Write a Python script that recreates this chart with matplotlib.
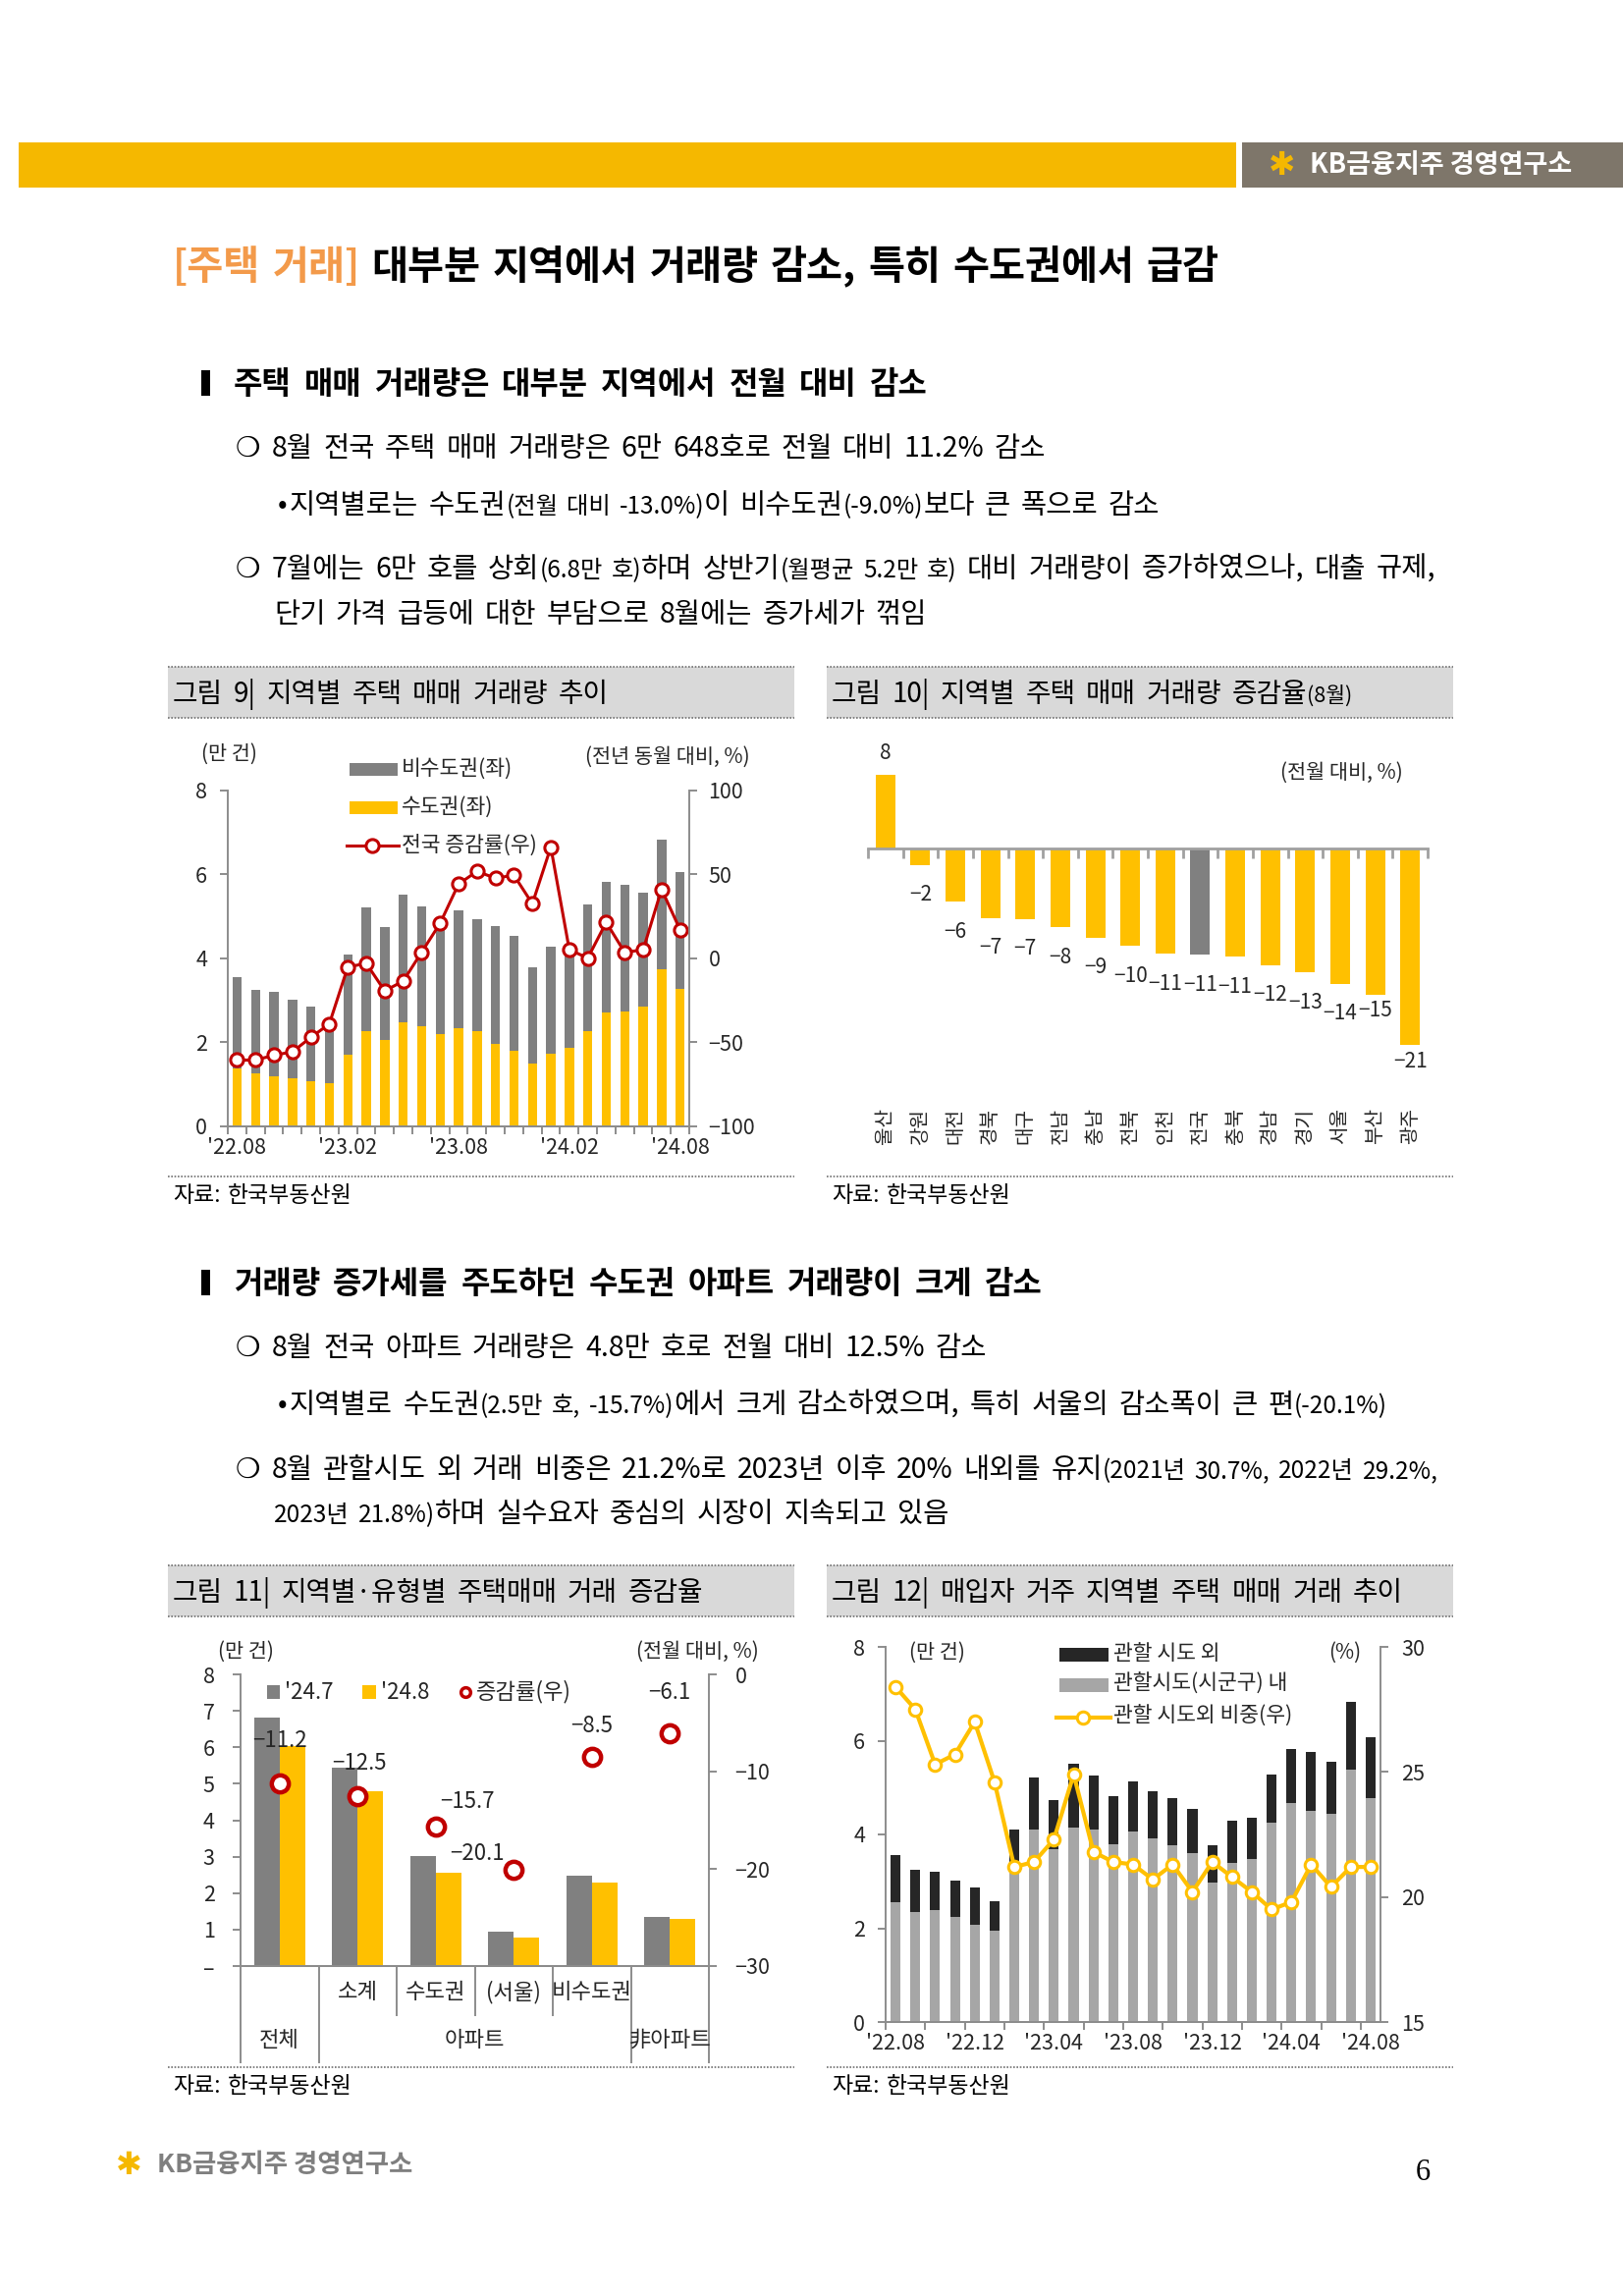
import numpy as np
import matplotlib
matplotlib.use('Agg')
import matplotlib.pyplot as plt
import matplotlib.transforms as mtransforms
from matplotlib.patches import Rectangle
from matplotlib.lines import Line2D

plt.rcParams['font.family'] = ['Noto Sans CJK KR', 'DejaVu Sans']
plt.rcParams['axes.unicode_minus'] = True

# ---------------- data ----------------
months = ['22.08', '22.09', '22.10', '22.11', '22.12', '23.01', '23.02', '23.03', '23.04',
          '23.05', '23.06', '23.07', '23.08', '23.09', '23.10', '23.11', '23.12', '24.01',
          '24.02', '24.03', '24.04', '24.05', '24.06', '24.07', '24.08']

# fig 9 : 만 건 / %
sudo = [1.39, 1.26, 1.19, 1.14, 1.08, 1.02, 1.70, 2.26, 2.05, 2.47, 2.38, 2.20, 2.33,
        2.26, 1.97, 1.80, 1.50, 1.73, 1.87, 2.26, 2.71, 2.73, 2.86, 3.75, 3.28]
bisudo = [2.16, 1.98, 2.02, 1.88, 1.78, 1.56, 2.40, 2.95, 2.69, 3.04, 2.87, 2.62, 2.81,
          2.67, 2.80, 2.74, 2.28, 2.56, 2.48, 3.02, 3.11, 3.02, 2.70, 3.08, 2.79]
yoy = [-60.5, -60.5, -57.6, -55.6, -47.0, -39.0, -5.1, -2.9, -19.3, -13.5, 3.7, 20.9, 44.3,
       51.9, 47.8, 49.6, 32.6, 66.3, 5.3, 0.2, 21.5, 3.7, 5.1, 41.2, 17.2]

# fig 10 : 8월 전월 대비 증감률
regions = ['울산', '강원', '대전', '경북', '대구', '전남', '충남', '전북', '인천', '전국',
           '충북', '경남', '경기', '서울', '부산', '광주']
mom = [7.8, -1.7, -5.6, -7.3, -7.4, -8.3, -9.4, -10.3, -11.1, -11.2, -11.4, -12.3, -13.1,
       -14.3, -15.4, -20.8]

# fig 11
groups = ['전체', '소계', '수도권', '(서울)', '비수도권', '非아파트']
vol_jul = [6.82, 5.45, 3.02, 0.93, 2.47, 1.35]
vol_aug = [6.04, 4.79, 2.55, 0.77, 2.28, 1.28]
rate11 = [-11.2, -12.5, -15.7, -20.1, -8.5, -6.1]

# fig 12
inside = [2.55, 2.34, 2.39, 2.24, 2.08, 1.95, 3.23, 4.11, 3.69, 4.15, 4.11, 3.80, 4.06,
          3.92, 3.77, 3.61, 2.98, 3.40, 3.48, 4.25, 4.67, 4.51, 4.43, 5.39, 4.77]
outside = [1.00, 0.90, 0.82, 0.78, 0.78, 0.63, 0.87, 1.10, 1.05, 1.36, 1.14, 1.02, 1.08,
           1.01, 1.00, 0.93, 0.80, 0.89, 0.87, 1.03, 1.15, 1.24, 1.13, 1.44, 1.30]
share = [28.4, 27.5, 25.3, 25.7, 27.0, 24.6, 21.2, 21.4, 22.3, 24.9, 21.8, 21.4, 21.3,
         20.7, 21.3, 20.2, 21.4, 20.8, 20.2, 19.5, 19.8, 21.3, 20.4, 21.2, 21.2]

YEL = '#FFC000'
GRY = '#808080'
RED = '#C00000'
AX = '#8C8C8C'
TXT = '#262626'

W, H = 1653, 2338
fig = plt.figure(figsize=(W / 100, H / 100), dpi=100)
fig.patch.set_facecolor('white')
R = fig.canvas.get_renderer()


def add_ax(l, t, r, b):
    return fig.add_axes([l / W, 1 - b / H, (r - l) / W, (b - t) / H])


def ftext(x, y, s, **kw):
    return fig.text(x / W, 1 - y / H, s, **kw)


def frect(x0, y0, x1, y1, **kw):
    fig.patches.append(Rectangle((x0 / W, 1 - y1 / H), (x1 - x0) / W, (y1 - y0) / H,
                                 transform=fig.transFigure, **kw))


def fline(xs, ys, **kw):
    fig.lines.append(Line2D([x / W for x in xs], [1 - y / H for y in ys],
                            transform=fig.transFigure, **kw))


def runs(x, y, parts, sp=0.36):
    # draw text pieces one after another on a common baseline, words spaced wide
    for part in parts:
        s, size = part[0], part[1]
        weight = part[2] if len(part) > 2 else 'normal'
        color = part[3] if len(part) > 3 else 'black'
        gap = size * sp * 100 / 72
        lead = len(s) - len(s.lstrip(' '))
        trail = len(s) - len(s.rstrip(' '))
        x += lead * gap
        for j, w in enumerate(s.strip(' ').split(' ')):
            if j:
                x += gap
            t = ftext(x, y, w, fontsize=size, fontweight=weight, color=color,
                      va='baseline', ha='left')
            x += t.get_window_extent(renderer=R).width
        x += trail * gap
    return x


def caption(x0, x1, y0, y1, parts):
    frect(x0, y0, x1, y1, color='#D9D9D9', lw=0)
    for yy in (y0, y1):
        fline([x0, x1], [yy, yy], color='#707070', lw=1.2, ls=(0, (1, 1)))
    runs(x0 + 5, (y0 + y1) / 2 + 10, parts, sp=0.38)


def source(x0, x1, y):
    fline([x0, x1], [y, y], color='#707070', lw=1.2, ls=(0, (1, 1)))
    runs(x0 + 5, y + 26, [('자료: 한국부동산원', 16.5)], sp=0.3)


def logo(x, y, color, size):
    ftext(x, y, '✱', fontsize=size + 4, color='#F5B800', va='center', ha='left',
          family=['DejaVu Sans'], fontweight='bold')
    ftext(x + 42, y, 'KB금융지주 경영연구소', fontsize=size, color=color, va='center',
          ha='left', fontweight='bold')


def style(ax):
    for s in ax.spines.values():
        s.set_color(AX)
        s.set_linewidth(1.4)
    ax.tick_params(colors=AX, labelcolor=TXT, labelsize=15.5, length=6, width=1.4)
    ax.patch.set_visible(False)


# ---------------- page frame ----------------
frect(19, 145, 1259, 191, color='#F5B800', lw=0)
frect(1265, 145, 1653, 191, color='#7E766A', lw=0)
logo(1292, 168, 'white', 19.5)

runs(176, 284, [('[주택 거래]', 29, 'bold', '#F39A4A'),
                (' 대부분 지역에서 거래량 감소, 특히 수도권에서 급감', 29, 'bold')], sp=0.3)

B, S = 20.5, 17.5
HS = 23


def heading(y, s):
    frect(205, y - 13, 214, y + 13, color='black', lw=0)
    runs(238, y + 11, [(s, HS, 'bold')], sp=0.4)


def bullet(y, parts):
    ftext(240, y + 10, '❍', fontsize=B, fontweight='bold', va='baseline')
    runs(277, y + 10, parts)


def sub(y, parts):
    ftext(283, y + 10, '•', fontsize=B, va='baseline')
    runs(295, y + 10, parts)


heading(390, '주택 매매 거래량은 대부분 지역에서 전월 대비 감소')
bullet(455, [('8월 전국 주택 매매 거래량은 6만 648호로 전월 대비 11.2% 감소', B)])
sub(513, [('지역별로는 수도권', B), ('(전월 대비 -13.0%)', S), ('이 비수도권', B),
          ('(-9.0%)', S), ('보다 큰 폭으로 감소', B)])
bullet(578, [('7월에는 6만 호를 상회', B), ('(6.8만 호)', S), ('하며 상반기', B),
             ('(월평균 5.2만 호)', S), (' 대비 거래량이 증가하였으나, 대출 규제,', B)])
runs(279, 634, [('단기 가격 급등에 대한 부담으로 8월에는 증가세가 꺾임', B)])

caption(171, 809, 679, 731, [('그림 9| 지역별 주택 매매 거래량 추이', 20)])
caption(842, 1480, 679, 731, [('그림 10| 지역별 주택 매매 거래량 증감율', 20), ('(8월)', 15.5)])
source(171, 809, 1198)
source(842, 1480, 1198)

heading(1306, '거래량 증가세를 주도하던 수도권 아파트 거래량이 크게 감소')
bullet(1371, [('8월 전국 아파트 거래량은 4.8만 호로 전월 대비 12.5% 감소', B)])
sub(1429, [('지역별로 수도권', B), ('(2.5만 호, -15.7%)', S),
           ('에서 크게 감소하였으며, 특히 서울의 감소폭이 큰 편', B), ('(-20.1%)', S)])
bullet(1495, [('8월 관할시도 외 거래 비중은 21.2%로 2023년 이후 20% 내외를 유지', B),
              ('(2021년 30.7%, 2022년 29.2%,', S)])
runs(279, 1550, [('2023년 21.8%)', S), ('하며 실수요자 중심의 시장이 지속되고 있음', B)])

caption(171, 809, 1594, 1646, [('그림 11| 지역별·유형별 주택매매 거래 증감율', 20)])
caption(842, 1480, 1594, 1646, [('그림 12| 매입자 거주 지역별 주택 매매 거래 추이', 20)])
source(171, 809, 2105)
source(842, 1480, 2105)

logo(118, 2205, '#7F7F7F', 19)
ftext(1449, 2212, '6', fontsize=22, family=['Liberation Serif'], ha='center', va='center')

# ---------------- 그림 9 ----------------
x = np.arange(len(months))
ax9 = add_ax(232, 805, 702, 1147)
style(ax9)
ax9.bar(x, sudo, 0.5, color=YEL, zorder=2)
ax9.bar(x, bisudo, 0.5, bottom=sudo, color=GRY, zorder=2)
ax9.set_xlim(-0.5, len(months) - 0.5)
ax9.set_ylim(0, 8)
ax9.set_yticks(range(0, 9, 2))
ax9.set_xticks(x[::6])
ax9.set_xticklabels(["'" + months[i] for i in x[::6]])
ax9.set_xticks(np.arange(-0.5, len(months), 1), minor=True)
ax9.tick_params(axis='x', which='major', length=0, pad=8)
ax9.tick_params(axis='x', which='minor', length=6, width=1.4, color=AX)
ax9.tick_params(axis='y', pad=9)
ax9.spines['top'].set_visible(False)
ax9.spines['right'].set_visible(False)
ax9b = ax9.twinx()
style(ax9b)
ax9b.spines['top'].set_visible(False)
ax9b.spines['left'].set_visible(False)
ax9b.plot(x, yoy, color=RED, lw=2.2, marker='o', ms=9.5, mfc='white', mec=RED, mew=2.2)
ax9b.set_ylim(-100, 100)
ax9b.set_yticks(range(-100, 101, 50))
ax9b.tick_params(axis='y', pad=8)

ftext(233, 768, '(만 건)', fontsize=15, ha='center', va='center', color=TXT)
ftext(680, 771, '(전년 동월 대비, %)', fontsize=15, ha='center', va='center', color=TXT)
frect(356, 777, 405, 790, color=GRY, lw=0)
ftext(409, 783, '비수도권(좌)', fontsize=15.5, va='center', color=TXT)
frect(356, 816, 405, 829, color=YEL, lw=0)
ftext(409, 822, '수도권(좌)', fontsize=15.5, va='center', color=TXT)
fline([353, 406], [861, 861], color=RED, lw=2.2)
fline([379], [861], color=RED, marker='o', ms=9.5, mfc='white', mec=RED, mew=2.2)
ftext(409, 861, '전국 증감률(우)', fontsize=15.5, va='center', color=TXT)

# ---------------- 그림 10 ----------------
x10 = np.arange(len(regions))
ax10 = add_ax(884, 773, 1454, 1076)
style(ax10)
ax10.bar(x10, mom, 0.56, color=[GRY if r == '전국' else YEL for r in regions], zorder=2)
ax10.set_xlim(-0.5, len(regions) - 0.5)
ax10.set_ylim(-22, 9.5)
for s in ['top', 'left', 'right']:
    ax10.spines[s].set_visible(False)
ax10.spines['bottom'].set_position(('data', 0))
ax10.spines['bottom'].set_color('#A0A0A0')
ax10.spines['bottom'].set_linewidth(2)
ax10.set_yticks([])
ax10.set_xticks(np.arange(-0.5, len(regions), 1))
ax10.set_xticklabels([])
ax10.tick_params(axis='x', length=7, width=2, color='#A0A0A0')
for i, v in enumerate(mom):
    lab = f'{v:.0f}'.replace('-', '\u2212')
    if v > 0:
        off = 16
    elif i >= len(mom) - 2:
        off = -12
    else:
        off = -22
    ax10.annotate(lab, (i, v), xytext=(0, off), textcoords='offset points',
                  ha='center', va='center', fontsize=15, color=TXT)
tr10 = mtransforms.blended_transform_factory(ax10.transData, ax10.transAxes)
for i, r in enumerate(regions):
    ax10.text(i, -0.172, r, transform=tr10, rotation=90, ha='center', va='top',
              fontsize=14.5, color=TXT)
ftext(1429, 787, '(전월 대비, %)', fontsize=15, ha='right', va='center', color=TXT)

# ---------------- 그림 11 ----------------
x11 = np.arange(len(groups))
ax11 = add_ax(245, 1705, 722, 2002)
style(ax11)
ax11.bar(x11 - 0.165, vol_jul, 0.33, color=GRY, zorder=2)
ax11.bar(x11 + 0.165, vol_aug, 0.33, color=YEL, zorder=2)
ax11.set_xlim(-0.5, len(groups) - 0.5)
ax11.set_ylim(0, 8)
ax11.set_yticks(range(0, 9))
ax11.set_yticklabels(['–'] + [str(v) for v in range(1, 9)])
ax11.set_xticks([])
ax11.tick_params(axis='y', pad=13)
ax11.spines['top'].set_visible(False)
ax11.spines['right'].set_visible(False)
ax11b = ax11.twinx()
style(ax11b)
ax11b.spines['top'].set_visible(False)
ax11b.spines['left'].set_visible(False)
ax11b.plot(x11, rate11, ls='none', marker='o', ms=12.5, mfc='white', mec=RED, mew=3.2)
ax11b.set_ylim(-30, 0)
ax11b.set_yticks([-30, -20, -10, 0])
ax11b.tick_params(axis='y', pad=13)
offs11 = [(0, 31), (1, 24), (23, 19), (-27, 12), (0, 23), (0, 30)]
for i, v in enumerate(rate11):
    ax11b.annotate(f'{v:.1f}'.replace('-', '\u2212'), (i, v), xytext=offs11[i],
                   textcoords='offset points', ha='center', va='center', fontsize=16,
                   color=TXT)
tr11 = mtransforms.blended_transform_factory(ax11.transData, ax11.transAxes)
for xb, low in [(-0.5, -0.33), (0.5, -0.33), (1.5, -0.168), (2.5, -0.168),
                (3.5, -0.168), (4.5, -0.33), (5.5, -0.33)]:
    ax11.plot([xb, xb], [0, low], transform=tr11, clip_on=False, color=AX, lw=1.4)
for i, g in enumerate(groups[1:5], start=1):
    ax11.text(i, -0.088, g, transform=tr11, ha='center', va='center', fontsize=16,
              color=TXT)
ax11.text(0, -0.253, groups[0], transform=tr11, ha='center', va='center', fontsize=16,
          color=TXT)
ax11.text(2.5, -0.253, '아파트', transform=tr11, ha='center', va='center', fontsize=16,
          color=TXT)
ax11.text(5, -0.253, groups[5], transform=tr11, ha='center', va='center', fontsize=16,
          color=TXT)
ftext(250, 1682, '(만 건)', fontsize=15, ha='center', va='center', color=TXT)
ftext(773, 1682, '(전월 대비, %)', fontsize=15, ha='right', va='center', color=TXT)
frect(272, 1716, 285, 1730, color=GRY, lw=0)
ftext(290, 1723, "'24.7", fontsize=16, va='center', color=TXT)
frect(369, 1716, 383, 1730, color=YEL, lw=0)
ftext(388, 1723, "'24.8", fontsize=16, va='center', color=TXT)
fline([474], [1723], color=RED, marker='o', ms=7, mfc='white', mec=RED, mew=2.5)
ftext(485, 1723, '증감률(우)', fontsize=16, va='center', color=TXT)

# ---------------- 그림 12 ----------------
ax12 = add_ax(902, 1677, 1406, 2059)
style(ax12)
ax12.bar(x, inside, 0.5, color='#A6A6A6', zorder=2)
ax12.bar(x, outside, 0.5, bottom=inside, color='#262626', zorder=2)
ax12.set_xlim(-0.5, len(months) - 0.5)
ax12.set_ylim(0, 8)
ax12.set_yticks(range(0, 9, 2))
ax12.set_xticks(x[::4])
ax12.set_xticklabels(["'" + months[i] for i in x[::4]])
ax12.set_xticks(np.arange(-0.5, len(months), 2), minor=True)
ax12.tick_params(axis='x', which='major', length=0, pad=8)
ax12.tick_params(axis='x', which='minor', length=6, width=1.4, color=AX)
ax12.tick_params(axis='y', pad=9)
ax12.spines['top'].set_visible(False)
ax12.spines['right'].set_visible(False)
ax12b = ax12.twinx()
style(ax12b)
ax12b.spines['top'].set_visible(False)
ax12b.spines['left'].set_visible(False)
ax12b.plot(x, share, color=YEL, lw=3, marker='o', ms=9, mfc='white', mec=YEL, mew=2.2)
ax12b.set_ylim(15, 30)
ax12b.set_yticks([15, 20, 25, 30])
ax12b.tick_params(axis='y', pad=9)

ftext(954, 1683, '(만 건)', fontsize=15, ha='center', va='center', color=TXT)
ftext(1370, 1683, '(%)', fontsize=15, ha='center', va='center', color=TXT)
frect(1079, 1678, 1129, 1692, color='#262626', lw=0)
ftext(1134, 1684, '관할 시도 외', fontsize=15.5, va='center', color=TXT)
frect(1079, 1709, 1129, 1723, color='#A6A6A6', lw=0)
ftext(1134, 1715, '관할시도(시군구) 내', fontsize=15.5, va='center', color=TXT)
fline([1076, 1131], [1749, 1749], color=YEL, lw=3)
fline([1103], [1749], color=YEL, marker='o', ms=9, mfc='white', mec=YEL, mew=2.2)
ftext(1134, 1748, '관할 시도외 비중(우)', fontsize=15.5, va='center', color=TXT)

fig.savefig('out.png', dpi=100, facecolor='white')
